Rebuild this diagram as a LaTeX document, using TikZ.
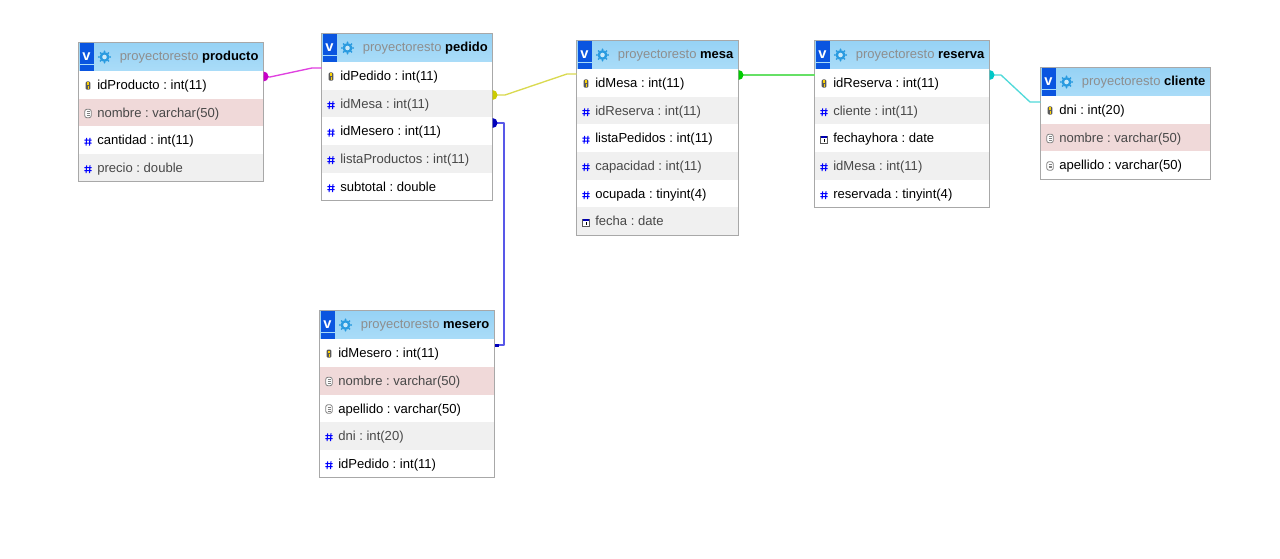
\documentclass[tikz,border=0pt]{standalone}
\usepackage{fontspec}
\setmainfont{Liberation Sans}
\usetikzlibrary{calc}
\definecolor{hdrtop}{HTML}{96D2F5}
\definecolor{hdrbot}{HTML}{AADCF8}
\definecolor{frameg}{HTML}{A8A8A8}
\definecolor{rowgrey}{HTML}{F0F0F0}
\definecolor{rowpink}{HTML}{F0D9D9}
\definecolor{dimtxt}{HTML}{484848}
\definecolor{dbgrey}{HTML}{8E8E8E}
\definecolor{vblue}{HTML}{0A55E0}
\definecolor{gearblue}{HTML}{2A9BE0}
\definecolor{cmag}{HTML}{E040E0}\definecolor{mmag}{HTML}{C800C8}
\definecolor{cyel}{HTML}{DADA50}\definecolor{myel}{HTML}{CCCC00}
\definecolor{cblu}{HTML}{5858E8}\definecolor{mblu}{HTML}{0000BB}
\definecolor{cgre}{HTML}{66E066}\definecolor{mgre}{HTML}{00CC00}
\definecolor{ctea}{HTML}{50DADA}\definecolor{mtea}{HTML}{00C8C8}
\tikzset{
 x=0.75pt,y=-0.75pt,
 tablebox/.style={inner sep=0pt,outer sep=0pt,anchor=north west},
 rowlabel/.style={anchor=base west,inner sep=0pt,font=\fontsize{9.8}{9.8}\selectfont\frenchspacing},
 hdrlabel/.style={anchor=base west,inner sep=0pt,font=\fontsize{9.75}{9.75}\selectfont\frenchspacing},
 conn/.style={line width=1pt,line join=round},
}
% icons, drawn with the reference point at the icon's centre
\newcommand{\iconkey}[2]{%
 \fill[black!65,rounded corners=1pt] (#1-2.4,#2-4) rectangle (#1+2.4,#2+4.2);
 \fill[yellow!70!orange] (#1-1.3,#2-3) rectangle (#1+1.3,#2-0.6);
 \fill[yellow!70!orange] (#1-0.5,#2+0.2) rectangle (#1+1.3,#2+3.3);}
\newcommand{\icontext}[2]{%
 \draw[gray,line width=0.6pt,fill=white,rounded corners=1.5pt] (#1-3.2,#2-4.2) rectangle (#1+3.2,#2+4.2);
 \draw[gray,line width=0.45pt] (#1-1.5,#2-1.8)--(#1+1.5,#2-1.8) (#1-1.5,#2)--(#1+1.5,#2) (#1-1.5,#2+1.8)--(#1+1.5,#2+1.8);}
\newcommand{\iconnum}[2]{%
 \draw[blue,line width=0.8pt] (#1-1.4,#2-3.2)--(#1-1.9,#2+4.6) (#1+2,#2-3.2)--(#1+1.5,#2+4.6)
  (#1-3.6,#2-0.8)--(#1+3.6,#2-0.8) (#1-3.6,#2+2.2)--(#1+3.6,#2+2.2);}
\newcommand{\icondate}[2]{%
 \draw[black!65,line width=0.5pt,fill=white] (#1-3.4,#2-2.6) rectangle (#1+3.4,#2+4.4);
 \fill[blue!70!black] (#1-3.4,#2-2.6) rectangle (#1+3.4,#2-1);
 \fill[black] (#1-0.5,#2-0.2) rectangle (#1+0.5,#2+3.2);}
% table: name, left, top, right, bottom
\newcommand{\tablebody}[5]{%
 \node[tablebox,fill=white,minimum width={(#4-#2)*0.75pt},minimum height={(#5-#3)*0.75pt}] (#1) at (#2,#3) {};}
% header: name, left, top, right, table title
\newcommand{\tablehead}[5]{%
 \shade[top color=hdrtop,bottom color=hdrbot] (#2,#3) rectangle (#4,#3+28.5);
 \fill[vblue] (#2+1,#3+1) rectangle (#2+15,#3+28.5);
 \fill[hdrbot] (#2+1,#3+21.5) rectangle (#2+15,#3+22.7);
 \node[inner sep=0pt,text=white,font=\bfseries\fontsize{11}{11}\selectfont,anchor=base] (#1-v) at (#2+8,#3+18) {v};
 \fill[gearblue] (#2+26,#3+14.5) circle (5);
 \fill[hdrtop!50!white] (#2+26,#3+14.5) circle (2.3);
 \foreach \a in {0,45,...,315}{\fill[gearblue] ($(#2+26,#3+14.5)+(\a:5.6)$) circle (1);}
 \node[hdrlabel] (#1-title) at (#2+41,#3+18.5) {\textcolor{dbgrey}{proyectoresto} \textbf{#5}};}
% row: table, index, left, top, right, fill, text colour, icon, text
\newcommand{\tablerow}[9]{%
 \fill[#6] (#3,#4) rectangle (#5,#4+27.7);
 #8{#3+9.5}{#4+14.5}
 \node[rowlabel,text=#7] (#1-r#2) at (#3+18.5,#4+18.5) {#9};}
\newcommand{\tableframe}[1]{\draw[frameg,line width=0.8pt] (#1.north west) rectangle (#1.south east);}
\begin{document}
\begin{tikzpicture}
\useasboundingbox (0,0) rectangle (1280,559);
\fill[white] (0,0) rectangle (1280,559);

% producto
\tablebody{producto}{78.5}{42.5}{263.5}{181.5}
\tablehead{producto-h}{78.5}{42.5}{263.5}{producto}
\tablerow{producto}{1}{78.5}{71}{263.5}{white}{black}{\iconkey}{idProducto : int(11)}
\tablerow{producto}{2}{78.5}{99}{263.5}{rowpink}{dimtxt}{\icontext}{nombre : varchar(50)}
\tablerow{producto}{3}{78.5}{126.5}{263.5}{white}{black}{\iconnum}{cantidad : int(11)}
\tablerow{producto}{4}{78.5}{154}{263.5}{rowgrey}{dimtxt}{\iconnum}{precio : double}
\tableframe{producto}

% pedido
\tablebody{pedido}{321.5}{33.5}{492.5}{200.5}
\tablehead{pedido-h}{321.5}{33.5}{492.5}{pedido}
\tablerow{pedido}{1}{321.5}{62}{492.5}{white}{black}{\iconkey}{idPedido : int(11)}
\tablerow{pedido}{2}{321.5}{90}{492.5}{rowgrey}{dimtxt}{\iconnum}{idMesa : int(11)}
\tablerow{pedido}{3}{321.5}{117.5}{492.5}{white}{black}{\iconnum}{idMesero : int(11)}
\tablerow{pedido}{4}{321.5}{145}{492.5}{rowgrey}{dimtxt}{\iconnum}{listaProductos : int(11)}
\tablerow{pedido}{5}{321.5}{173}{492.5}{white}{black}{\iconnum}{subtotal : double}
\tableframe{pedido}

% mesa
\tablebody{mesa}{576.5}{40.5}{738.5}{235.5}
\tablehead{mesa-h}{576.5}{40.5}{738.5}{mesa}
\tablerow{mesa}{1}{576.5}{69}{738.5}{white}{black}{\iconkey}{idMesa : int(11)}
\tablerow{mesa}{2}{576.5}{97}{738.5}{rowgrey}{dimtxt}{\iconnum}{idReserva : int(11)}
\tablerow{mesa}{3}{576.5}{124.5}{738.5}{white}{black}{\iconnum}{listaPedidos : int(11)}
\tablerow{mesa}{4}{576.5}{152}{738.5}{rowgrey}{dimtxt}{\iconnum}{capacidad : int(11)}
\tablerow{mesa}{5}{576.5}{180}{738.5}{white}{black}{\iconnum}{ocupada : tinyint(4)}
\tablerow{mesa}{6}{576.5}{207.5}{738.5}{rowgrey}{dimtxt}{\icondate}{fecha : date}
\tableframe{mesa}

% reserva
\tablebody{reserva}{814.5}{40.5}{989.5}{207.5}
\tablehead{reserva-h}{814.5}{40.5}{989.5}{reserva}
\tablerow{reserva}{1}{814.5}{69}{989.5}{white}{black}{\iconkey}{idReserva : int(11)}
\tablerow{reserva}{2}{814.5}{97}{989.5}{rowgrey}{dimtxt}{\iconnum}{cliente : int(11)}
\tablerow{reserva}{3}{814.5}{124.5}{989.5}{white}{black}{\icondate}{fechayhora : date}
\tablerow{reserva}{4}{814.5}{152}{989.5}{rowgrey}{dimtxt}{\iconnum}{idMesa : int(11)}
\tablerow{reserva}{5}{814.5}{180}{989.5}{white}{black}{\iconnum}{reservada : tinyint(4)}
\tableframe{reserva}

% cliente
\tablebody{cliente}{1040.5}{67.5}{1210.5}{179.5}
\tablehead{cliente-h}{1040.5}{67.5}{1210.5}{cliente}
\tablerow{cliente}{1}{1040.5}{96}{1210.5}{white}{black}{\iconkey}{dni : int(20)}
\tablerow{cliente}{2}{1040.5}{124}{1210.5}{rowpink}{dimtxt}{\icontext}{nombre : varchar(50)}
\tablerow{cliente}{3}{1040.5}{151.5}{1210.5}{white}{black}{\icontext}{apellido : varchar(50)}
\tableframe{cliente}

% mesero
\tablebody{mesero}{319.5}{310.5}{494.5}{477.5}
\tablehead{mesero-h}{319.5}{310.5}{494.5}{mesero}
\tablerow{mesero}{1}{319.5}{339}{494.5}{white}{black}{\iconkey}{idMesero : int(11)}
\tablerow{mesero}{2}{319.5}{367}{494.5}{rowpink}{dimtxt}{\icontext}{nombre : varchar(50)}
\tablerow{mesero}{3}{319.5}{394.5}{494.5}{white}{black}{\icontext}{apellido : varchar(50)}
\tablerow{mesero}{4}{319.5}{422}{494.5}{rowgrey}{dimtxt}{\iconnum}{dni : int(20)}
\tablerow{mesero}{5}{319.5}{450}{494.5}{white}{black}{\iconnum}{idPedido : int(11)}
\tableframe{mesero}

% connector end points
\coordinate (magA) at (producto.east |- 0,76.5);
\coordinate (magB) at (pedido.west |- 0,68);
\coordinate (yelA) at (pedido.east |- 0,95);
\coordinate (yelB) at (mesa.west |- 0,74);
\coordinate (bluA) at (pedido.east |- 0,123);
\coordinate (bluB) at (mesero.east |- 0,345);
\coordinate (greA) at (mesa.east |- 0,75);
\coordinate (greB) at (reserva.west |- 0,75);
\coordinate (teaA) at (reserva.east |- 0,75);
\coordinate (teaB) at (cliente.west |- 0,102);

% connectors
\draw[conn,cmag] (magA) -- (270,77) -- (312,68) -- (magB);
\draw[conn,cyel] (yelA) -- (505,95) -- (567,74) -- (yelB);
\draw[conn,cblu] (bluA) -- (503.9,123) -- (503.9,345) -- (bluB);
\draw[conn,cgre] (greA) -- (greB);
\draw[conn,ctea] (teaA) -- (1001,75) -- (1030,102) -- (teaB);

% end markers
\foreach \p/\c in {magA/mmag,yelA/myel,bluA/mblu,greA/mgre,teaA/mtea}
  \fill[\c] (\p) ++(0,5) arc[start angle=90,end angle=-90,radius=5] -- cycle;
\fill[mblu] (bluB) ++(0,-1.5) rectangle ++(4,3);
\end{tikzpicture}
\end{document}
